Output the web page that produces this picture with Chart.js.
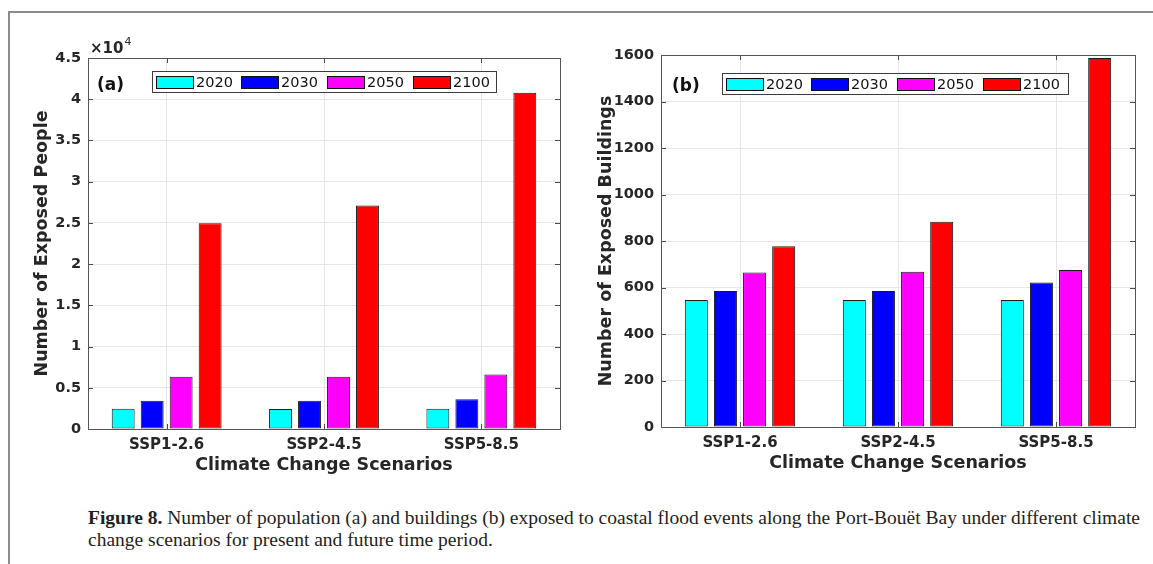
<!DOCTYPE html>
<html>
<head>
<meta charset="utf-8">
<script src="https://cdn.jsdelivr.net/npm/chart.js@4.4.1/dist/chart.umd.min.js"></script>
<style>
  html, body { margin: 0; padding: 0; background: #fff; }
  body { width: 1153px; height: 564px; position: relative; overflow: hidden; font-family: 'DejaVu Sans', sans-serif; }
  .frame { position: absolute; left: 8px; top: 11px; right: -5px; bottom: -5px; border-left: 2px solid #8c8c8c; border-top: 2px solid #8c8c8c; }
  .panel { position: absolute; top: 0; height: 480px; }
  #panelA { left: 0; width: 580px; }
  #panelB { left: 575px; width: 578px; }
  .caption { position: absolute; left: 88px; top: 507px; font-family: 'Liberation Serif', serif; font-size: 19px; line-height: 22px; color: #231f20; transform-origin: 0 0; white-space: nowrap; }
</style>
</head>
<body>
<div class="frame"></div>
<div class="panel" id="panelA"><canvas id="peopleChart"></canvas></div>
<div class="panel" id="panelB"><canvas id="buildingsChart"></canvas></div>
<div class="caption" id="caption"><span id="capLine1"><b>Figure 8.</b> Number of population (a) and buildings (b) exposed to coastal flood events along the Port-Bouët Bay under different climate</span><br><span>change scenarios for present and future time period.</span></div>

<script>
const scenarios = ['SSP1-2.6', 'SSP2-4.5', 'SSP5-8.5'];
const years = ['2020', '2030', '2050', '2100'];
const yearColors = ['#00ffff', '#0000ff', '#ff00ff', '#ff0000'];

// exposed people, one value per scenario
const people2020 = [2450, 2430, 2460];
const people2030 = [3430, 3430, 3600];
const people2050 = [6350, 6350, 6600];
const people2100 = [24960, 27100, 40800];

// exposed buildings, one value per scenario
const buildings2020 = [546, 546, 546];
const buildings2030 = [585, 585, 622];
const buildings2050 = [665, 668, 675];
const buildings2100 = [777, 883, 1587];

const peopleAxis = { max: 45000, step: 5000 };
const buildingsAxis = { max: 1600, step: 200 };

const ink = '#262626';

// box around the plot area plus inward tick marks on all four sides
const axesBox = {
  id: 'axesBox',
  afterDatasetsDraw(chart) {
    const { ctx, chartArea: a, scales: { x, y } } = chart;
    const len = 5;
    ctx.save();
    ctx.strokeStyle = '#4a4a4a';
    ctx.lineWidth = 1;
    ctx.beginPath();
    x.ticks.forEach((t, i) => {
      const px = Math.round(x.getPixelForTick(i)) + 0.5;
      ctx.moveTo(px, a.bottom); ctx.lineTo(px, a.bottom - len);
      ctx.moveTo(px, a.top); ctx.lineTo(px, a.top + len);
    });
    y.ticks.forEach((t, i) => {
      const py = Math.round(y.getPixelForTick(i)) + 0.5;
      ctx.moveTo(a.left, py); ctx.lineTo(a.left + len, py);
      ctx.moveTo(a.right, py); ctx.lineTo(a.right - len, py);
    });
    ctx.stroke();
    ctx.strokeStyle = '#555';
    ctx.strokeRect(Math.round(a.left) + 0.5, Math.round(a.top) + 0.5, Math.round(a.right - a.left), Math.round(a.bottom - a.top));
    ctx.restore();
  }
};

// framed legend, panel tag and exponent note
const panelDecor = {
  id: 'panelDecor',
  afterDraw(chart, args, opts) {
    const { ctx, chartArea: a } = chart;
    ctx.save();
    const bx = a.left + opts.legendX, by = a.top + opts.legendY;
    ctx.fillStyle = '#fff';
    ctx.fillRect(bx, by, opts.legendW, opts.legendH);
    ctx.strokeStyle = '#3c3c3c';
    ctx.lineWidth = 1;
    ctx.strokeRect(Math.round(bx) + 0.5, Math.round(by) + 0.5, opts.legendW, opts.legendH);
    const cy = by + opts.legendH / 2 + 0.5;
    ctx.font = '14.5px "DejaVu Sans"';
    ctx.textBaseline = 'middle';
    chart.data.datasets.forEach((ds, i) => {
      const sx = Math.round(bx + 3.5 + i * 85.8);
      ctx.fillStyle = ds.backgroundColor;
      ctx.fillRect(sx, Math.round(cy - 6), 37, 12);
      ctx.strokeStyle = '#111';
      ctx.strokeRect(sx + 0.5, Math.round(cy - 6) + 0.5, 37, 12);
      ctx.fillStyle = '#111';
      ctx.fillText(ds.label, sx + 40, cy + 1);
    });

    ctx.fillStyle = '#111';
    ctx.font = 'bold 17px "DejaVu Sans"';
    ctx.fillText(opts.tag, a.left + opts.tagX, a.top + opts.tagY);

    if (opts.exponent) {
      ctx.fillStyle = ink;
      ctx.font = 'bold 15px "DejaVu Sans"';
      const ex = a.left + 2, ey = a.top - 9;
      ctx.fillText('×10', ex, ey);
      const w = ctx.measureText('×10').width;
      ctx.font = '11px "DejaVu Sans"';
      ctx.fillText(opts.exponent, ex + w + 1, ey - 7);
    }
    ctx.restore();
  }
};

function buildChart(canvasId, series, axis, yTitle, fit, decor, tickFormat) {
  return new Chart(document.getElementById(canvasId), {
    type: 'bar',
    data: {
      labels: scenarios,
      datasets: series.map((values, i) => ({
        label: years[i],
        data: values,
        backgroundColor: yearColors[i],
        borderColor: '#1a1a1a',
        borderWidth: 1,
        borderSkipped: false,
        categoryPercentage: 0.737,
        barPercentage: 0.79
      }))
    },
    options: {
      responsive: true,
      maintainAspectRatio: false,
      animation: false,
      layout: { padding: { left: 0, top: fit.top, right: fit.right, bottom: 0 } },
      plugins: {
        legend: { display: false },
        tooltip: { enabled: false },
        panelDecor: decor
      },
      scales: {
        x: {
          offset: true,
          grid: { offset: false, color: '#e6e6e6', drawTicks: false },
          border: { display: false },
          ticks: { color: ink, padding: 7, font: { family: 'DejaVu Sans', size: 15, weight: 'bold' } },
          title: { display: true, text: 'Climate Change Scenarios', color: ink, padding: { top: 0, bottom: fit.xTitlePad }, font: { family: 'DejaVu Sans', size: 17.5, weight: 'bold' } },
          afterFit: (scale) => { scale.height = fit.xHeight; }
        },
        y: {
          min: 0,
          max: axis.max,
          grid: { color: '#e6e6e6', drawTicks: false },
          border: { display: false },
          ticks: { stepSize: axis.step, color: ink, padding: 7, font: { family: 'DejaVu Sans', size: 14.5, weight: 'bold' }, callback: tickFormat },
          title: { display: true, text: yTitle, color: ink, padding: { top: fit.yTitlePad, bottom: 0 }, font: { family: 'DejaVu Sans', size: 17.5, weight: 'bold' } },
          afterFit: (scale) => { scale.width = fit.yWidth; }
        }
      }
    },
    plugins: [axesBox, panelDecor]
  });
}

buildChart('peopleChart',
  [people2020, people2030, people2050, people2100],
  peopleAxis, 'Number of Exposed People',
  { top: 58, right: 20, xHeight: 51, yWidth: 88, xTitlePad: 4.5, yTitlePad: 32 },
  { legendX: 64, legendY: 13, legendW: 344, legendH: 21, tag: '(a)', tagX: 9, tagY: 28, exponent: '4' },
  (v) => String(v / 1e4));

buildChart('buildingsChart',
  [buildings2020, buildings2030, buildings2050, buildings2100],
  buildingsAxis, 'Number of Exposed Buildings',
  { top: 55, right: 18, xHeight: 53, yWidth: 86, xTitlePad: 6.5, yTitlePad: 21 },
  { legendX: 61, legendY: 18, legendW: 346, legendH: 21, tag: '(b)', tagX: 11, tagY: 32 },
  (v) => String(v));

// squeeze the caption so its first line spans the figure width
const cap = document.getElementById('caption');
const line1 = document.getElementById('capLine1');
cap.style.transform = 'scaleX(' + (1052 / line1.getBoundingClientRect().width) + ')';
</script>
</body>
</html>
